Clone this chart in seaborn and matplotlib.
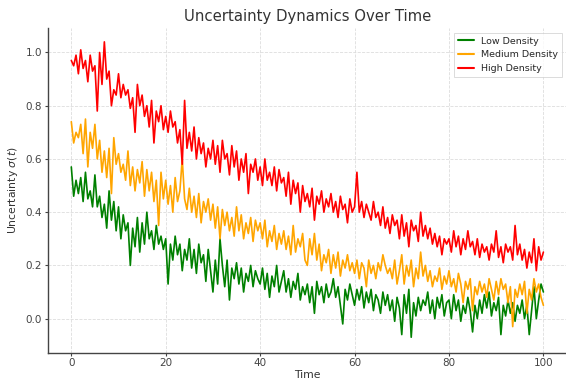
import numpy as np
import pandas as pd
import matplotlib
matplotlib.use("Agg")
import matplotlib.pyplot as plt
import seaborn as sns

time = np.linspace(0, 100, 201)

low_density = [
    0.57, 0.46, 0.52, 0.47, 0.53, 0.44, 0.55, 0.45, 0.48, 0.42,
    0.54, 0.42, 0.46, 0.38, 0.43, 0.34, 0.48, 0.37, 0.44, 0.33,
    0.42, 0.30, 0.39, 0.33, 0.36, 0.20, 0.34, 0.27, 0.38, 0.25,
    0.36, 0.28, 0.40, 0.30, 0.33, 0.26, 0.35, 0.28, 0.31, 0.26,
    0.30, 0.13, 0.28, 0.22, 0.31, 0.24, 0.28, 0.18, 0.26, 0.22,
    0.30, 0.19, 0.26, 0.17, 0.28, 0.21, 0.24, 0.14, 0.26, 0.18,
    0.10, 0.22, 0.13, 0.30, 0.20, 0.12, 0.22, 0.07, 0.19, 0.15,
    0.21, 0.13, 0.19, 0.10, 0.17, 0.14, 0.20, 0.12, 0.18, 0.15,
    0.13, 0.19, 0.11, 0.17, 0.08, 0.16, 0.12, 0.20, 0.10, 0.14,
    0.18, 0.10, 0.15, 0.08, 0.14, 0.11, 0.17, 0.07, 0.12, 0.09,
    0.13, 0.06, 0.12, 0.02, 0.14, 0.09, 0.12, 0.06, 0.13, 0.08,
    0.10, 0.15, 0.08, 0.12, 0.05, -0.02, 0.11, 0.07, 0.13, 0.09,
    0.05, 0.11, 0.07, 0.12, 0.04, 0.10, 0.06, 0.11, 0.03, 0.09,
    0.07, 0.02, 0.10, 0.05, 0.09, 0.03, 0.07, -0.01, 0.08, 0.04,
    -0.06, 0.09, 0.02, 0.11, -0.07, 0.06, 0.01, 0.08, 0.03, 0.07,
    0.05, 0.10, 0.02, 0.07, 0.00, 0.08, 0.04, 0.09, 0.01, 0.06,
    0.07, 0.00, 0.09, 0.03, 0.07, -0.01, 0.05, 0.02, 0.08, 0.03,
    -0.05, 0.05, 0.00, 0.07, 0.02, 0.09, 0.04, 0.10, 0.01, 0.06,
    0.03, 0.08, -0.06, 0.05, 0.01, 0.07, 0.02, 0.06, -0.01, 0.05,
    0.02, 0.07, 0.00, 0.05, -0.06, 0.03, 0.12, 0.00, 0.07, 0.13,
    0.10,
]

medium_density = [
    0.74, 0.66, 0.70, 0.68, 0.73, 0.62, 0.75, 0.57, 0.70, 0.64,
    0.73, 0.60, 0.67, 0.55, 0.63, 0.53, 0.64, 0.47, 0.68, 0.58,
    0.62, 0.55, 0.58, 0.52, 0.63, 0.50, 0.57, 0.48, 0.56, 0.51,
    0.59, 0.46, 0.56, 0.48, 0.55, 0.44, 0.52, 0.35, 0.55, 0.45,
    0.52, 0.43, 0.50, 0.40, 0.53, 0.44, 0.48, 0.60, 0.45, 0.41,
    0.49, 0.40, 0.46, 0.38, 0.47, 0.36, 0.44, 0.40, 0.45, 0.37,
    0.43, 0.34, 0.42, 0.30, 0.41, 0.35, 0.40, 0.33, 0.38, 0.31,
    0.42, 0.33, 0.39, 0.30, 0.36, 0.32, 0.38, 0.29, 0.37, 0.33,
    0.36, 0.30, 0.37, 0.27, 0.33, 0.29, 0.35, 0.26, 0.32, 0.28,
    0.33, 0.26, 0.31, 0.24, 0.35, 0.25, 0.30, 0.27, 0.32, 0.22,
    0.20, 0.30, 0.24, 0.32, 0.22, 0.28, 0.18, 0.24, 0.21, 0.26,
    0.17, 0.24, 0.19, 0.25, 0.16, 0.22, 0.19, 0.24, 0.18, 0.21,
    0.17, 0.22, 0.15, 0.21, 0.19, 0.12, 0.22, 0.17, 0.20, 0.15,
    0.21, 0.18, 0.24, 0.20, 0.17, 0.19, 0.15, 0.22, 0.13, 0.18,
    0.24, 0.13, 0.20, 0.16, 0.22, 0.12, 0.19, 0.15, 0.25, 0.16,
    0.20, 0.14, 0.18, 0.12, 0.16, 0.14, 0.19, 0.11, 0.16, 0.13,
    0.18, 0.12, 0.15, 0.10, 0.17, 0.13, 0.06, 0.14, 0.11, 0.15,
    0.03, 0.12, 0.09, 0.14, 0.10, 0.13, 0.08, 0.15, 0.11, 0.07,
    0.14, 0.09, 0.15, 0.11, 0.13, 0.06, 0.12, -0.03, 0.11, 0.08,
    0.13, 0.09, 0.14, 0.02, 0.11, 0.07, 0.15, 0.10, 0.13, 0.08,
    0.05,
]

high_density = [
    0.97, 0.95, 0.99, 0.92, 1.01, 0.94, 0.97, 0.89, 0.99, 0.93,
    0.95, 0.78, 1.00, 0.88, 1.04, 0.90, 0.93, 0.80, 0.86, 0.84,
    0.92, 0.83, 0.88, 0.84, 0.86, 0.79, 0.83, 0.70, 0.88, 0.80,
    0.84, 0.76, 0.80, 0.72, 0.82, 0.66, 0.78, 0.74, 0.80, 0.71,
    0.76, 0.70, 0.78, 0.72, 0.74, 0.66, 0.71, 0.58, 0.82, 0.64,
    0.70, 0.63, 0.72, 0.60, 0.68, 0.62, 0.66, 0.57, 0.64, 0.60,
    0.67, 0.58, 0.65, 0.55, 0.67, 0.60, 0.62, 0.54, 0.65, 0.57,
    0.63, 0.52, 0.60, 0.55, 0.62, 0.47, 0.58, 0.55, 0.60, 0.52,
    0.57, 0.50, 0.60, 0.52, 0.55, 0.50, 0.57, 0.48, 0.56, 0.51,
    0.53, 0.46, 0.55, 0.43, 0.52, 0.47, 0.51, 0.40, 0.50, 0.44,
    0.47, 0.42, 0.49, 0.37, 0.46, 0.43, 0.48, 0.40, 0.45, 0.42,
    0.47, 0.40, 0.44, 0.38, 0.46, 0.41, 0.43, 0.36, 0.45, 0.40,
    0.42, 0.55, 0.40, 0.44, 0.38, 0.43, 0.40, 0.37, 0.44, 0.38,
    0.40, 0.35, 0.42, 0.34, 0.38, 0.32, 0.39, 0.35, 0.37, 0.30,
    0.39, 0.31, 0.36, 0.27, 0.37, 0.33, 0.35, 0.29, 0.40, 0.31,
    0.35, 0.30, 0.34, 0.28, 0.32, 0.27, 0.31, 0.24, 0.30, 0.28,
    0.30, 0.25, 0.33, 0.27, 0.31, 0.24, 0.30, 0.26, 0.33, 0.27,
    0.29, 0.24, 0.30, 0.23, 0.28, 0.25, 0.27, 0.22, 0.28, 0.25,
    0.33, 0.23, 0.27, 0.21, 0.28, 0.25, 0.27, 0.22, 0.35, 0.24,
    0.28, 0.22, 0.26, 0.19, 0.25, 0.21, 0.30, 0.18, 0.27, 0.22,
    0.25,
]

series_names = ["Low Density", "Medium Density", "High Density"]
series_colors = ["green", "orange", "red"]

df = pd.concat([
    pd.DataFrame({"Time": time, "Uncertainty": low_density, "Series": series_names[0]}),
    pd.DataFrame({"Time": time, "Uncertainty": medium_density, "Series": series_names[1]}),
    pd.DataFrame({"Time": time, "Uncertainty": high_density, "Series": series_names[2]}),
], ignore_index=True)

sns.set_theme(style="whitegrid")
plt.rcParams["font.family"] = ["DejaVu Sans"]

fig = plt.figure(figsize=(5.66, 3.82), dpi=100)
ax = fig.add_axes([47.7 / 566, 1 - 352.7 / 382, (567 - 47.7) / 566, (352.7 - 28) / 382])

sns.lineplot(data=df, x="Time", y="Uncertainty", hue="Series",
             palette=dict(zip(series_names, series_colors)),
             linewidth=1.2, ax=ax, legend=True)

ax.set_xlim(-5, 105)
ax.set_ylim(-0.128, 1.092)
ax.set_xticks([0, 20, 40, 60, 80, 100])
ax.set_yticks([0.0, 0.2, 0.4, 0.6, 0.8, 1.0])
ax.set_yticklabels(["0.0", "0.2", "0.4", "0.6", "0.8", "1.0"])
ax.grid(True, linestyle="--", linewidth=0.6, color="#dddddd")
ax.set_facecolor("white")
for s in ["top", "right"]:
    ax.spines[s].set_visible(False)
for s in ["left", "bottom"]:
    ax.spines[s].set_color("#444444")
    ax.spines[s].set_linewidth(1.0)
ax.tick_params(axis="both", labelsize=7.5, colors="#444444", length=2, width=0.8,
               pad=2, left=True, bottom=True)

ax.set_title("Uncertainty Dynamics Over Time", fontsize=10.7, color="#333333", pad=5)
ax.set_xlabel("Time", fontsize=7.8, color="#333333", labelpad=1)
ax.set_ylabel(r"Uncertainty $\sigma(t)$", fontsize=7.8, color="#333333", labelpad=4)

leg = ax.legend(loc="upper right", borderaxespad=0.5, fontsize=6.8,
                frameon=True, fancybox=False, handlelength=1.7)
leg.get_frame().set_edgecolor("#cccccc")
leg.get_frame().set_linewidth(0.6)
for line in leg.get_lines():
    line.set_linewidth(1.5)

fig.savefig("out.png", dpi=100)
